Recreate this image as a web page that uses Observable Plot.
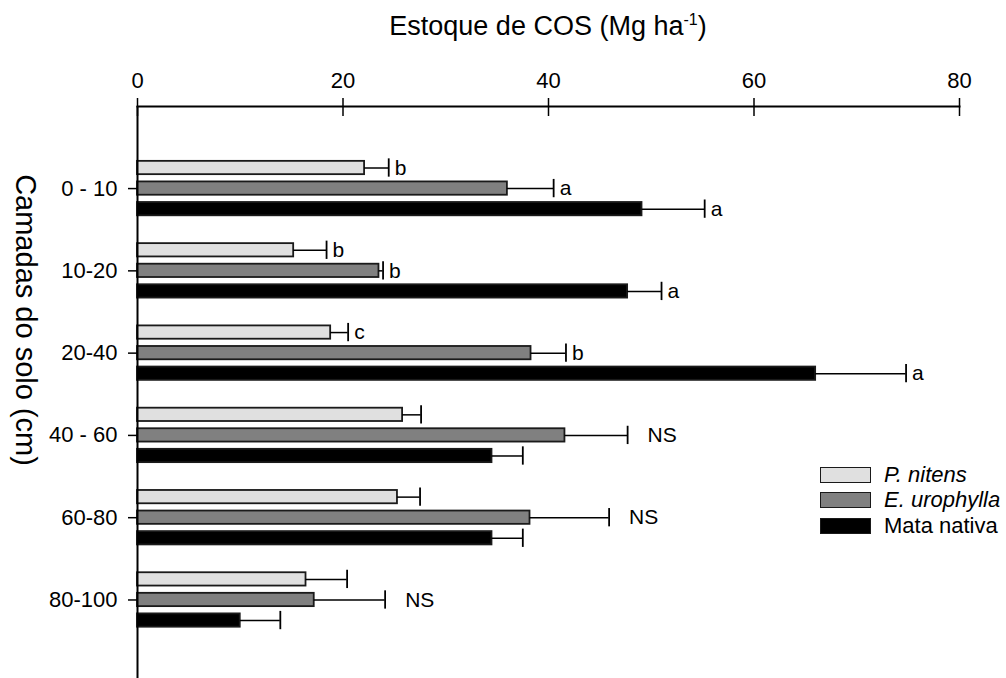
<!DOCTYPE html>
<html><head><meta charset="utf-8">
<script src="https://cdn.jsdelivr.net/npm/d3@7"></script>
<script src="https://cdn.jsdelivr.net/npm/@observablehq/plot@0.6"></script>
<style>
html,body{margin:0;padding:0;background:#fff;overflow:hidden;}
body{font-family:"Liberation Sans",Arial,sans-serif;color:#000;}
#wrap{position:relative;width:1006px;height:678px;overflow:hidden;}
#title{position:absolute;left:137px;width:822px;top:13px;text-align:center;font-size:27px;line-height:27px;white-space:nowrap;}
#title sup{font-size:16px;vertical-align:10px;line-height:0;}
#ytitle{position:absolute;left:25px;top:320px;transform:translate(-50%,-50%) rotate(90deg);white-space:nowrap;font-size:29px;line-height:29px;}
#chart{position:absolute;left:40px;top:50px;width:966px;height:628px;overflow:hidden;}
#legend{position:absolute;left:820px;top:462px;font-size:22px;}
.row{display:flex;align-items:center;height:25.5px;white-space:nowrap;}
.sw{width:49px;height:14px;border:1.8px solid #1a1a1a;margin-right:13px;flex:none;}
</style>
</head><body>
<div id="wrap">
  <div id="title">Estoque de COS (Mg ha<sup>-1</sup>)</div>
  <div id="ytitle">Camadas do solo (cm)</div>
  <div id="chart"></div>
  <div id="legend"></div>
</div>
<script>
// ---- data ----
const layers = ["0 - 10", "10-20", "20-40", "40 - 60", "60-80", "80-100"];
const series = ["P. nitens", "E. urophylla", "Mata nativa"];
const pNitens    = [22.1, 15.2, 18.8, 25.8, 25.3, 16.4];
const pNitensErr = [2.35, 3.2, 1.7, 1.8, 2.2, 4.0];
const eUro       = [36.0, 23.5, 38.3, 41.6, 38.2, 17.2];
const eUroErr    = [4.5, 0.4, 3.4, 6.1, 7.7, 6.9];
const mata       = [49.1, 47.7, 66.0, 34.5, 34.5, 10.0];
const mataErr    = [6.1, 3.3, 8.8, 3.0, 3.0, 3.9];
const pLetters = ["b", "b", "c", "", "", ""];
const eLetters = ["a", "b", "b", "NS", "NS", "NS"];
const mLetters = ["a", "a", "a", "", "", ""];
const xTicks = [0, 20, 40, 60, 80];
const fills = ["#e0e0e0", "#808080", "#000000"];

// ---- build table ----
const vals = [pNitens, eUro, mata];
const errs = [pNitensErr, eUroErr, mataErr];
const lets = [pLetters, eLetters, mLetters];
const rows = [];
const domain = [];
layers.forEach((layer, i) => {
  series.forEach((s, j) => {
    const key = layer + "|" + s;
    domain.push(key);
    rows.push({key, layer, series: s, value: vals[j][i], err: errs[j][i], label: lets[j][i]});
  });
  if (i < layers.length - 1) domain.push(layer + "|gap");
});
const tickKeys = layers.map(l => l + "|" + series[1]);

const step = 20.57, inner = 0.353, r0 = 110.85;
const r1 = r0 + step * (domain.length - inner);

const chart = Plot.plot({
  width: 966,
  height: 628,
  marginTop: 56,
  marginBottom: 0,
  marginLeft: 97,
  marginRight: 47,
  style: {fontFamily: "'Liberation Sans', Arial, sans-serif", fontSize: "22px", color: "#000", background: "#fff"},
  x: {domain: [0, 80], label: null},
  y: {type: "band", domain, range: [r0, r1], paddingInner: inner, paddingOuter: 0, align: 0, round: false, label: null},
  color: {domain: series, range: fills},
  marks: [
    Plot.barX(rows, {x: "value", y: "key", fill: "series", stroke: "#1a1a1a", strokeWidth: 1.8}),
    Plot.ruleY(rows, {y: "key", x1: "value", x2: d => d.value + d.err, stroke: "#000", strokeWidth: 1.5}),
    Plot.tickX(rows, {x: d => d.value + d.err, y: "key", stroke: "#000", strokeWidth: 1.8, insetTop: -2.5, insetBottom: -2.5}),
    Plot.text(rows.filter(d => d.label && d.label !== "NS"), {x: d => d.value + d.err, y: "key", text: "label", textAnchor: "start", dx: 6, fontSize: 21}),
    Plot.text(rows.filter(d => d.label === "NS"), {x: d => d.value + d.err, y: "key", text: "label", textAnchor: "start", dx: 20, fontSize: 21}),
    Plot.ruleX([0], {stroke: "#000", strokeWidth: 2}),
    Plot.frame({anchor: "top", stroke: "#000", strokeWidth: 2}),
    Plot.axisX({anchor: "top", ticks: xTicks, tickSize: 0, tickPadding: 19, fontSize: 22, label: null, tickFormat: d => d}),
    Plot.axisX({anchor: "top", ticks: xTicks, tickSize: 18, dy: 9, text: null, label: null, strokeWidth: 1.5}),
    Plot.axisY({anchor: "left", ticks: tickKeys, tickFormat: k => k.split("|")[0], tickSize: 9, tickPadding: 11, fontSize: 22, label: null, strokeWidth: 1.5})
  ]
});
document.getElementById("chart").appendChild(chart);

// ---- legend ----
const leg = document.getElementById("legend");
series.forEach((s, j) => {
  const row = document.createElement("div");
  row.className = "row";
  const sw = document.createElement("div");
  sw.className = "sw";
  sw.style.background = fills[j];
  const t = document.createElement("span");
  t.textContent = s;
  if (j < 2) t.style.fontStyle = "italic";
  row.appendChild(sw); row.appendChild(t);
  leg.appendChild(row);
});
</script>
</body></html>
